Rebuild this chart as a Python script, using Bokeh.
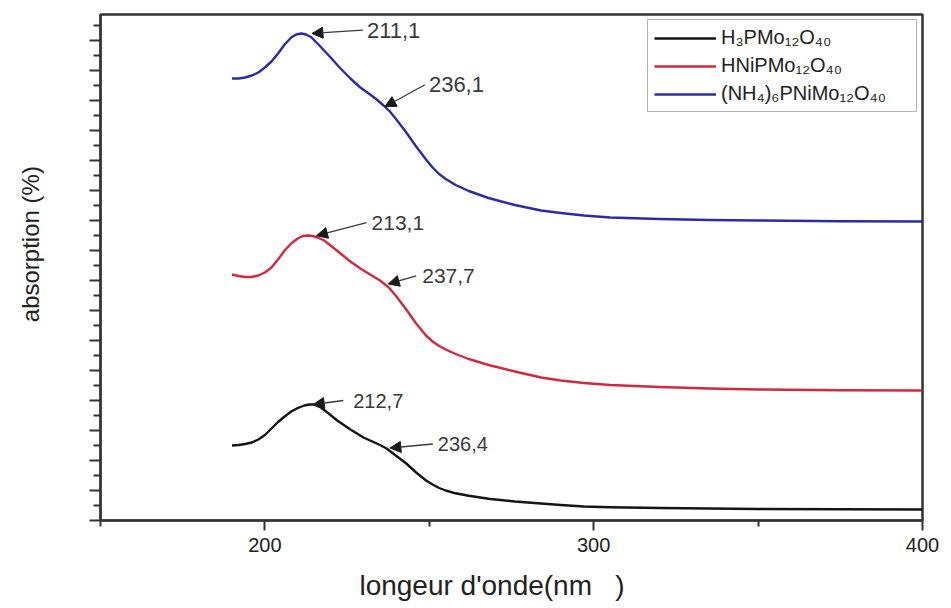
import numpy as np
from bokeh.plotting import figure
from bokeh.models import (Range1d, FixedTicker, Legend, LegendItem, Arrow, NormalHead,
                          ColumnDataSource, CustomJSTickFormatter)
from bokeh.core.properties import value
from bokeh.embed import file_html
from bokeh.resources import INLINE

# ---------------- data ----------------
series_names = ["H₃PMo₁₂O₄₀", "HNiPMo₁₂O₄₀", "(NH₄)₆PNiMo₁₂O₄₀"]

wl_black = [190, 192, 194, 196, 198, 200, 202, 204, 206, 208, 210, 212, 213.5, 215, 217, 219,
            222, 226, 230, 233, 235, 237, 239, 241, 243, 246, 249, 251, 253, 255, 258, 262, 268,
            276, 284, 290, 297, 305, 320, 335, 350, 375, 400]
abs_black = [0.75, 0.755, 0.765, 0.78, 0.81, 0.855, 0.92, 0.985, 1.04, 1.09, 1.125, 1.15, 1.16,
             1.16, 1.13, 1.08, 1.00, 0.91, 0.83, 0.785, 0.755, 0.72, 0.67, 0.62, 0.57, 0.48,
             0.40, 0.36, 0.325, 0.30, 0.272, 0.247, 0.218, 0.19, 0.17, 0.155, 0.14, 0.133,
             0.125, 0.12, 0.115, 0.112, 0.11]

wl_red = [190, 192, 194, 196, 198, 200, 202, 204, 206, 208, 210, 211.5, 213.1, 214.5, 216, 218,
          220, 223, 226, 229, 232, 235, 237.7, 240, 243, 246, 249, 251, 253, 255, 258, 262, 268,
          276, 284, 290, 297, 305, 320, 335, 350, 375, 400]
abs_red = [2.46, 2.445, 2.435, 2.435, 2.45, 2.48, 2.53, 2.61, 2.70, 2.77, 2.82, 2.845, 2.85,
           2.845, 2.83, 2.80, 2.75, 2.67, 2.59, 2.52, 2.46, 2.40, 2.33, 2.24, 2.11, 1.97, 1.85,
           1.79, 1.745, 1.71, 1.665, 1.615, 1.555, 1.49, 1.43, 1.40, 1.375, 1.355, 1.335, 1.32,
           1.31, 1.303, 1.30]

wl_blue = [190, 192, 194, 196, 198, 200, 202, 204, 206, 208, 209.5, 211.1, 212.5, 214, 216, 218,
           220, 223, 226, 229, 232, 234, 236.1, 238, 240, 243, 246, 249, 251, 253, 255, 258, 262,
           268, 276, 284, 290, 297, 305, 320, 335, 350, 375, 400]
abs_blue = [4.42, 4.42, 4.43, 4.45, 4.48, 4.53, 4.59, 4.67, 4.76, 4.83, 4.86, 4.87, 4.86, 4.835,
            4.77, 4.70, 4.63, 4.52, 4.42, 4.33, 4.26, 4.21, 4.15, 4.09, 4.01, 3.88, 3.74, 3.61,
            3.53, 3.465, 3.415, 3.355, 3.295, 3.225, 3.155, 3.10, 3.075, 3.05, 3.03, 3.015,
            3.005, 3.0, 2.993, 2.99]

ann_labels = ["211,1", "236,1", "213,1", "237,7", "212,7", "236,4"]
ann_series = ["blue", "blue", "red", "red", "black", "black"]
ann_wl = [211.1, 236.1, 213.1, 237.7, 212.7, 236.4]

x_ticks_major = [200, 300, 400]
x_ticks_minor = [150, 250, 350]

x_title = "longeur d'onde(nm\u00a0\u00a0\u00a0)" + "\u00a0" * 5
y_title = "\u00a0" * 7 + "absorption (%)"

# ---------------- styles / layout ----------------
COLORS = {"black": "#141414", "red": "#d1293d", "blue": "#2b2ba6"}
FONT = "Liberation Sans"
X0, X1 = 150, 400
Y0, Y1 = 0, 5.06
FRAME_W, FRAME_H = 822, 506
PX_NM = FRAME_W / (X1 - X0)
PX_U = FRAME_H / (Y1 - Y0)

tip_shift_nm = [3.2, 0.4, 2.6, -0.2, 2.0, 1.6]
tip_lift_px = [4.5, 0, 1.5, 3, 0, 3]
tail_dx_px = [51, 40, 50, 28, 30, 43]
tail_dy_px = [3.3, 22, 13, 8, 4, 4]
text_gap_px = [4, 4, 5, 6, 10, 5]
ann_font_px = ["22px", "22px", "21px", "21px", "20px", "20px"]

p = figure(width=951, height=608, x_range=Range1d(X0, X1), y_range=Range1d(Y0, Y1),
           output_backend="svg", toolbar_location=None,
           min_border_left=100, min_border_right=29, min_border_top=14, min_border_bottom=88)
p.background_fill_color = "white"
p.border_fill_color = "white"
p.grid.visible = False
p.outline_line_color = "#333333"
p.outline_line_width = 2.5

# curves
r_black = p.line(wl_black, abs_black, line_color=COLORS["black"], line_width=2.4, line_join="round")
r_red = p.line(wl_red, abs_red, line_color=COLORS["red"], line_width=2.4, line_join="round")
r_blue = p.line(wl_blue, abs_blue, line_color=COLORS["blue"], line_width=2.4, line_join="round")

# annotations
series_map = {"black": (wl_black, abs_black), "red": (wl_red, abs_red), "blue": (wl_blue, abs_blue)}
tx, ty, sx, sy, lx, ly = [], [], [], [], [], []
for i, s in enumerate(ann_series):
    wl, ab = series_map[s]
    x_tip = ann_wl[i] + tip_shift_nm[i]
    y_tip = float(np.interp(x_tip, wl, ab)) + tip_lift_px[i] / PX_U
    x_tail = x_tip + tail_dx_px[i] / PX_NM
    y_tail = y_tip + tail_dy_px[i] / PX_U
    tx.append(x_tip); ty.append(y_tip); sx.append(x_tail); sy.append(y_tail)
    lx.append(x_tail + text_gap_px[i] / PX_NM); ly.append(y_tail)

arrow_src = ColumnDataSource(dict(xs=sx, ys=sy, xe=tx, ye=ty))
p.add_layout(Arrow(source=arrow_src, x_start="xs", y_start="ys", x_end="xe", y_end="ye",
                   line_color="#3a3a3a", line_width=1.3,
                   end=NormalHead(size=11, fill_color="#1a1a1a", line_color="#1a1a1a", line_width=1)))
lab_src = ColumnDataSource(dict(x=lx, y=ly, t=ann_labels, fs=ann_font_px))
p.text(x="x", y="y", text="t", source=lab_src, text_font=value(FONT), text_font_size="fs",
       text_color="#3a3a3a", text_baseline="middle", text_align="left")

# axes
xa = p.xaxis[0]
xa.ticker = FixedTicker(ticks=x_ticks_major, minor_ticks=x_ticks_minor)
xa.major_tick_out = 10
xa.major_tick_in = 0
xa.minor_tick_out = 6
xa.minor_tick_in = 0
xa.axis_line_width = 2
xa.major_tick_line_width = 2
xa.minor_tick_line_width = 2
xa.axis_line_color = "#333333"
xa.major_tick_line_color = "#333333"
xa.minor_tick_line_color = "#333333"
xa.major_label_text_font = FONT
xa.major_label_text_font_size = "20px"
xa.major_label_text_color = "#222222"
xa.major_label_standoff = 7
xa.axis_label = x_title
xa.axis_label_text_font = FONT
xa.axis_label_text_font_size = "28px"
xa.axis_label_text_font_style = "normal"
xa.axis_label_text_color = "#222222"
xa.axis_label_standoff = 15

ya = p.yaxis[0]
y_major = [round(0.3 * k, 3) for k in range(0, 17)]
y_minor = [round(0.15 + 0.3 * k, 3) for k in range(0, 17)]
ya.ticker = FixedTicker(ticks=y_major, minor_ticks=y_minor)
ya.formatter = CustomJSTickFormatter(code="return ''")
ya.major_tick_out = 11
ya.major_tick_in = 0
ya.minor_tick_out = 7
ya.minor_tick_in = 0
ya.axis_line_width = 2
ya.major_tick_line_width = 2
ya.minor_tick_line_width = 2
ya.axis_line_color = "#333333"
ya.major_tick_line_color = "#333333"
ya.minor_tick_line_color = "#333333"
ya.major_label_standoff = 0
ya.axis_label = y_title
ya.axis_label_text_font = FONT
ya.axis_label_text_font_size = "24px"
ya.axis_label_text_font_style = "normal"
ya.axis_label_text_color = "#222222"
ya.axis_label_standoff = 46

legend = Legend(items=[LegendItem(label=series_names[0], renderers=[r_black]),
                       LegendItem(label=series_names[1], renderers=[r_red]),
                       LegendItem(label=series_names[2], renderers=[r_blue])],
                location="top_right", margin=5, padding=6, spacing=5,
                glyph_width=62, glyph_height=20, label_height=20, label_width=189,
                label_standoff=5,
                label_text_font=FONT, label_text_font_size="20px", label_text_color="#222222",
                border_line_color="#666666", border_line_width=1.5,
                background_fill_color="white", background_fill_alpha=1.0)
p.add_layout(legend)

open("out.html", "w").write(file_html(p, INLINE))
